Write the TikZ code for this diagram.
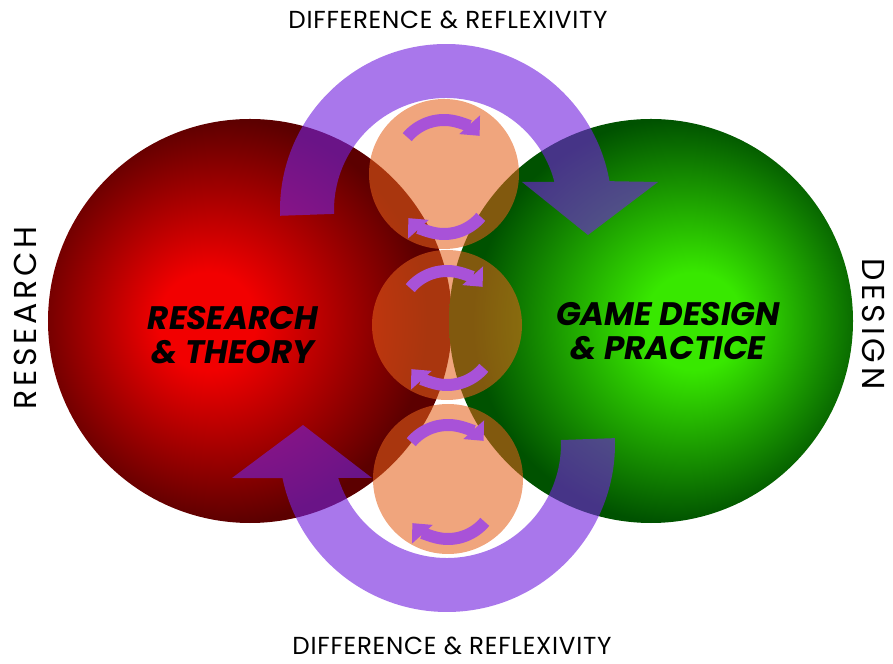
\documentclass[tikz,border=0pt]{standalone}
\usepackage{fontspec}
\setmainfont{Poppins}
\usepackage{xcolor}
\usepackage{tikz}
\definecolor{researchhi}{HTML}{F20000}
\definecolor{researchlo}{HTML}{5C0000}
\definecolor{designhi}{HTML}{38E800}
\definecolor{designlo}{HTML}{005200}
\definecolor{looporange}{RGB}{228,96,26}
\definecolor{cyclepurple}{RGB}{115,33,222}
\definecolor{smallpurple}{RGB}{168,82,216}
\usetikzlibrary{arrows.meta, calc}
\pgfdeclareradialshading{researchball}{\pgfpoint{-6bp}{0bp}}{color(0bp)=(researchhi); color(6bp)=(researchhi); color(25bp)=(researchlo); color(50bp)=(researchlo)}
\pgfdeclareradialshading{designball}{\pgfpoint{6bp}{0bp}}{color(0bp)=(designhi); color(6bp)=(designhi); color(25bp)=(designlo); color(50bp)=(designlo)}

\begin{document}
\begin{tikzpicture}[
          x=0.2mm, y=0.2mm,
          every node/.style = {inner sep=0pt},
          bigball/.style = {circle, minimum size=80.8mm, shade},
          loopball/.style = {circle, minimum size=30mm, fill=looporange,
                             fill opacity=0.57},
          bigarrow/.style = {fill=cyclepurple, fill opacity=0.61},
          cyclearr/.style = {-{Triangle[width=5.4mm, length=3mm]},
                             line width=2.4mm, smallpurple},
          mainlabel/.style = {font=\fontsize{18.5}{19.5}\selectfont\bfseries\itshape,
                              align=center},
          rimlabel/.style = {font=\fontsize{14}{15}\selectfont\addfontfeature{LetterSpace=3}},
          sidelabel/.style = {font=\fontsize{18}{19}\selectfont\addfontfeature{LetterSpace=12}},
        ]
        \useasboundingbox (0,0) rectangle (893,-664);

        %% The two fields
        \node[bigball, shading=researchball] (research) at (250,-321) {};
        \node[bigball, shading=designball]   (design)   at (651,-321) {};

        %% Loops in between
        \node[loopball] (loopTop) at (444,-174) {};
        \node[loopball] (loopMid) at (447,-325) {};
        \node[loopball] (loopBot) at (448,-479) {};

        %% Big arrows round the loops
        \path[bigarrow] ([shift={(446,-210)}]182:166) arc[start angle=182, end angle=10, radius=166]
              -- (658,-182) -- (588,-235) -- (522,-182)
              -- ([shift={(446,-210)}]14.5:112) arc[start angle=14.5, end angle=182, radius=112] -- cycle;
        \path[bigarrow] ([shift={(447,-444)}]2:168) arc[start angle=2, end angle=-168.3, radius=168]
              -- (232,-478) -- (303,-425) -- (372,-478)
              -- ([shift={(447,-444)}]197.35:114) arc[start angle=197.35, end angle=362, radius=114] -- cycle;

        %% Small cycles
        \draw[cyclearr] ($(loopTop)+(0,6)+(140:48)$) arc[start angle=140, end angle=42, radius=48];
        \draw[cyclearr] ($(loopTop)+(0,-12)+(-40:48)$) arc[start angle=-40, end angle=-138, radius=48];
        \draw[cyclearr] ($(loopMid)+(0,6)+(140:48)$) arc[start angle=140, end angle=42, radius=48];
        \draw[cyclearr] ($(loopMid)+(0,-12)+(-40:48)$) arc[start angle=-40, end angle=-138, radius=48];
        \draw[cyclearr] ($(loopBot)+(0,6)+(140:48)$) arc[start angle=140, end angle=42, radius=48];
        \draw[cyclearr] ($(loopBot)+(0,-12)+(-40:48)$) arc[start angle=-40, end angle=-138, radius=48];

        %% Labels
        \node[mainlabel] (researchtext) at (233,-335) {RESEARCH\\\& THEORY};
        \node[mainlabel] (designtext)   at (668,-331) {GAME DESIGN\\\& PRACTICE};
        \node[rimlabel]  (toptext)      at (448,-20)  {DIFFERENCE \& REFLEXIVITY};
        \node[rimlabel]  (bottomtext)   at (452,-646) {DIFFERENCE \& REFLEXIVITY};
        \node[sidelabel, rotate=90]  (researchside) at (25,-318)  {RESEARCH};
        \node[sidelabel, rotate=-90] (designside)   at (874,-324) {DESIGN};
      \end{tikzpicture}
\end{document}
